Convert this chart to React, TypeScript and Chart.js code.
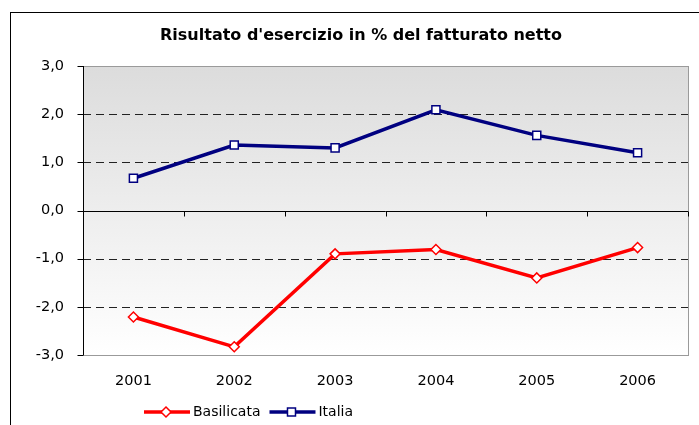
import React, { useEffect, useRef } from "react";
import { Chart, registerables } from "chart.js";

Chart.register(...registerables);

const TITLE = "Risultato d'esercizio in % del fatturato netto";
const YEARS = ["2001", "2002", "2003", "2004", "2005", "2006"];
const BASILICATA = [-2.21, -2.83, -0.9, -0.81, -1.4, -0.77];
const ITALIA = [0.67, 1.36, 1.3, 2.09, 1.56, 1.2];
const Y_MIN = -3;
const Y_MAX = 3;
const FONT = "'DejaVu Sans', sans-serif";

const framePlugin = {
  id: "frame",
  beforeDraw(chart: any) {
    const { ctx, chartArea: a, width, height } = chart;
    ctx.save();
    ctx.fillStyle = "#ffffff";
    ctx.fillRect(0, 0, width, height);
    ctx.strokeStyle = "#000000";
    ctx.lineWidth = 1;
    ctx.strokeRect(10.5, 12.5, width + 20, height + 20);
    const g = ctx.createLinearGradient(0, a.top, 0, a.bottom);
    g.addColorStop(0, "#dcdcdc");
    g.addColorStop(1, "#ffffff");
    ctx.fillStyle = g;
    ctx.fillRect(a.left, a.top, a.right - a.left, a.bottom - a.top);
    // title
    ctx.fillStyle = "#000000";
    ctx.font = "bold 16px " + FONT;
    ctx.textAlign = "center";
    ctx.textBaseline = "middle";
    ctx.fillText(TITLE, 361, 36);
    ctx.restore();
  },
  beforeDatasetsDraw(chart: any) {
    const { ctx, chartArea: a, scales } = chart;
    const y = scales.y;
    const x = scales.x;
    ctx.save();
    ctx.lineWidth = 1;
    // dashed grid
    ctx.strokeStyle = "#222222";
    ctx.setLineDash([8, 5]);
    for (const v of [2, 1, -1, -2]) {
      const py = Math.round(y.getPixelForValue(v)) + 0.5;
      ctx.beginPath();
      ctx.moveTo(a.left, py);
      ctx.lineTo(a.right, py);
      ctx.stroke();
    }
    ctx.setLineDash([]);
    // gray frame
    ctx.strokeStyle = "#9a9a9a";
    ctx.strokeRect(Math.round(a.left) + 0.5, Math.round(a.top) + 0.5, Math.round(a.right - a.left), Math.round(a.bottom - a.top));
    // left axis + ticks
    ctx.strokeStyle = "#000000";
    const lx = Math.round(a.left) + 0.5;
    ctx.beginPath();
    ctx.moveTo(lx, a.top);
    ctx.lineTo(lx, a.bottom);
    for (let v = Y_MIN; v <= Y_MAX; v++) {
      const py = Math.round(y.getPixelForValue(v)) + 0.5;
      ctx.moveTo(lx - 6, py);
      ctx.lineTo(lx, py);
    }
    ctx.stroke();
    // zero line + category ticks
    const zy = Math.round(y.getPixelForValue(0)) + 0.5;
    ctx.beginPath();
    ctx.moveTo(a.left, zy);
    ctx.lineTo(a.right, zy);
    const n = YEARS.length;
    for (let i = 0; i <= n; i++) {
      const px = Math.round(x.getPixelForValue(i - 0.5)) + 0.5;
      ctx.moveTo(px, zy);
      ctx.lineTo(px, zy + 5);
    }
    ctx.stroke();
    ctx.restore();
  },
  afterDraw(chart: any) {
    const { ctx } = chart;
    ctx.save();
    ctx.font = "14px " + FONT;
    ctx.textBaseline = "middle";
    ctx.textAlign = "left";
    let x0 = 144;
    const ly = 412;
    chart.data.datasets.forEach((ds: any) => {
      ctx.strokeStyle = ds.borderColor;
      ctx.lineWidth = 3.5;
      ctx.beginPath();
      ctx.moveTo(x0, ly);
      ctx.lineTo(x0 + 46, ly);
      ctx.stroke();
      const cx = x0 + 22;
      ctx.fillStyle = "#ffffff";
      ctx.lineWidth = 1.5;
      ctx.strokeStyle = ds.pointBorderColor;
      ctx.beginPath();
      if (ds.pointStyle === "rectRot") {
        ctx.moveTo(cx, ly - 5);
        ctx.lineTo(cx + 5, ly);
        ctx.lineTo(cx, ly + 5);
        ctx.lineTo(cx - 5, ly);
        ctx.closePath();
      } else {
        ctx.rect(cx - 4, ly - 4, 8, 8);
      }
      ctx.fill();
      ctx.stroke();
      ctx.fillStyle = "#000000";
      ctx.fillText(ds.label, x0 + 49, ly);
      x0 += 49 + ctx.measureText(ds.label).width + 9;
    });
    ctx.restore();
  },
};

export default function App() {
  const ref = useRef<HTMLCanvasElement>(null);
  useEffect(() => {
    document.body.style.margin = "0";
    const chart = new Chart(ref.current as HTMLCanvasElement, {
      type: "line",
      data: {
        labels: YEARS,
        datasets: [
          {
            label: "Basilicata",
            data: BASILICATA,
            borderColor: "#ff0000",
            borderWidth: 3.5,
            pointStyle: "rectRot",
            pointRadius: 5,
            pointBackgroundColor: "#ffffff",
            pointBorderColor: "#ff0000",
            pointBorderWidth: 1.5,
            tension: 0,
          },
          {
            label: "Italia",
            data: ITALIA,
            borderColor: "#000080",
            borderWidth: 3.5,
            pointStyle: "rect",
            pointRadius: 5.7,
            pointBackgroundColor: "#ffffff",
            pointBorderColor: "#000080",
            pointBorderWidth: 1.5,
            tension: 0,
          },
        ],
      },
      options: {
        responsive: false,
        animation: false,
        layout: { padding: { top: 66, bottom: 30, left: 0, right: 11 } },
        plugins: { legend: { display: false }, title: { display: false }, tooltip: { enabled: false } },
        scales: {
          x: {
            type: "category",
            offset: true,
            grid: { display: false, drawTicks: false },
            border: { display: false },
            ticks: { color: "#000000", font: { family: FONT, size: 14.5 }, padding: 18, maxRotation: 0 },
            afterFit: (s: any) => {
              s.height = 40;
            },
          },
          y: {
            min: Y_MIN,
            max: Y_MAX,
            grid: { display: false, drawTicks: false },
            border: { display: false },
            ticks: {
              stepSize: 1,
              color: "#000000",
              font: { family: FONT, size: 14.5 },
              padding: 19,
              callback: (v: any) => Number(v).toFixed(1).replace(".", ","),
            },
            afterFit: (s: any) => {
              s.width = 83;
            },
          },
        },
      },
      plugins: [framePlugin],
    } as any);
    return () => chart.destroy();
  }, []);
  return (
    <div style={{ position: "absolute", left: 0, top: 0, width: 699, height: 425 }}>
      <canvas ref={ref} width={699} height={425} />
    </div>
  );
}
